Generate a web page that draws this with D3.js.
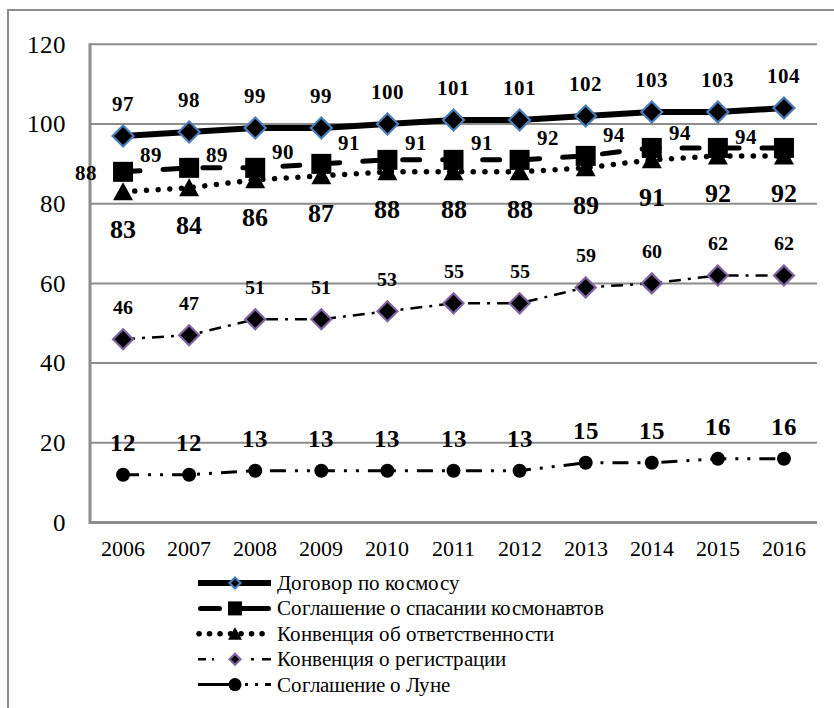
<!DOCTYPE html>
<html>
<head>
<meta charset="utf-8">
<script src="https://cdn.jsdelivr.net/npm/d3@7"></script>
<style>
  @font-face { font-family: "ChartSerif"; font-weight: 400; src: local("Liberation Serif"), local("LiberationSerif"), local("Tinos"), local("Times New Roman"); }
  @font-face { font-family: "ChartSerif"; font-weight: 700; src: local("Liberation Serif Bold"), local("LiberationSerif-Bold"), local("Tinos Bold"), local("Times New Roman Bold"); }
  html, body { margin: 0; padding: 0; background: #fff; }
  svg.chart { display: block; font-family: "ChartSerif", "Liberation Serif", Tinos, "DejaVu Serif"; }
</style>
</head>
<body>
<div id="wrap"></div>
<script>
// Years on the horizontal axis
const years = ["2006", "2007", "2008", "2009", "2010", "2011", "2012", "2013", "2014", "2015", "2016"];

// Number of states party to each UN space treaty
const seriesNames = [
  "Договор по космосу",
  "Соглашение о спасании космонавтов",
  "Конвенция об ответственности",
  "Конвенция о регистрации",
  "Соглашение о Луне"
];
const outerSpaceTreaty   = [97, 98, 99, 99, 100, 101, 101, 102, 103, 103, 104];
const rescueAgreement    = [88, 89, 89, 90, 91, 91, 91, 92, 94, 94, 94];
const liabilityConv      = [83, 84, 86, 87, 88, 88, 88, 89, 91, 92, 92];
const registrationConv   = [46, 47, 51, 51, 53, 55, 55, 59, 60, 62, 62];
const moonAgreement      = [12, 12, 13, 13, 13, 13, 13, 15, 15, 16, 16];

const yTicks = [0, 20, 40, 60, 80, 100, 120];

// ---- layout ----
const FONT = '"ChartSerif", "Liberation Serif", Tinos, "DejaVu Serif"';
const svg = d3.select("#wrap").append("svg")
  .attr("class", "chart")
  .attr("width", 834).attr("height", 708);
const plot = { left: 90, right: 817, top: 44.3, bottom: 522.5 };
const grey = "#8c8c8c";

const x = d3.scaleBand().domain(years).range([plot.left, plot.right]).paddingInner(0).paddingOuter(0);
const cx = d => x(d) + x.bandwidth() / 2;
const y = d3.scaleLinear().domain([0, 120]).range([plot.bottom, plot.top]);

// outer frame (top and left edges)
svg.append("path")
  .attr("d", "M8,708 L8,10 L834,10")
  .attr("fill", "none").attr("stroke", grey).attr("stroke-width", 2);

// gridlines
svg.append("g").selectAll("line")
  .data(yTicks)
  .join("line")
  .attr("x1", plot.left).attr("x2", plot.right)
  .attr("y1", d => y(d)).attr("y2", d => y(d))
  .attr("stroke", grey).attr("stroke-width", 2);

// y tick labels
svg.append("g").selectAll("text")
  .data(yTicks)
  .join("text")
  .attr("font-family", FONT)
  .attr("font-size", 25)
  .attr("x", plot.left - 24)
  .attr("y", d => y(d) + 25 * 0.33)
  .attr("text-anchor", "end")
  .attr("fill", "#000")
  .text(d => d);

// x tick labels
svg.append("g").selectAll("text")
  .data(years)
  .join("text")
  .attr("font-family", FONT)
  .attr("font-size", 21.5)
  .attr("x", d => cx(d))
  .attr("y", 556)
  .attr("text-anchor", "middle")
  .attr("fill", "#000")
  .text(d => d);

// axis lines (left and bottom)
svg.append("path")
  .attr("d", `M${plot.left},${plot.top - 1} L${plot.left},${plot.bottom} L${plot.right},${plot.bottom}`)
  .attr("fill", "none").attr("stroke", grey).attr("stroke-width", 3);

// ---- marker shapes ----
function drawMarker(g, kind, px, py, s, fill, stroke) {
  let el;
  if (kind === "diamond") {
    el = g.append("path").attr("d", `M${px},${py - s} L${px + s},${py} L${px},${py + s} L${px - s},${py} Z`);
  } else if (kind === "square") {
    el = g.append("rect").attr("x", px - s).attr("y", py - s).attr("width", 2 * s).attr("height", 2 * s);
  } else if (kind === "triangle") {
    el = g.append("path").attr("d", `M${px},${py - s * 0.95} L${px + s},${py + s * 0.85} L${px - s},${py + s * 0.85} Z`);
  } else {
    el = g.append("circle").attr("cx", px).attr("cy", py).attr("r", s);
  }
  el.attr("fill", fill);
  if (stroke) el.attr("stroke", stroke).attr("stroke-width", 2.2);
  else el.attr("stroke", "none");
}

// label offsets for the rescue agreement series
const rescueOffsets = [[-37, 1], [-38, -13], [-38, -13], [-38, -12], [-38, -17], [-38, -17], [-38, -17], [-38, -18], [-38, -13], [-38, -15], [-38, -11]];

const series = [
  { name: seriesNames[0], values: outerSpaceTreaty, width: 6, dash: null, cap: "butt",
    marker: "diamond", size: 10.5, mfill: "#000", mstroke: "#4a7ebb", lsize: 5.5,
    ldash: null, lx: 198, font: 20.5, off: () => [0, -32] },
  { name: seriesNames[1], values: rescueAgreement, width: 5, dash: "17,23", cap: "round",
    marker: "square", size: 10, mfill: "#000", mstroke: null, lsize: 7,
    ldash: "19,11,40", lx: 200.5, font: 21, off: i => rescueOffsets[i] },
  { name: seriesNames[2], values: liabilityConv, width: 5.5, dash: "0.1,11.6", cap: "round",
    marker: "triangle", size: 10, mfill: "#000", mstroke: null, lsize: 7,
    ldash: "0.1,10.4", lx: 199, font: 26, off: () => [0, 38] },
  { name: seriesNames[3], values: registrationConv, width: 2.5, dash: "12,7,3,7", cap: "butt",
    marker: "diamond", size: 10, mfill: "#000", mstroke: "#8064a2", lsize: 5.5,
    ldash: "8,6,2,37,3,8,9", lx: 198, font: 20, off: () => [0, -32] },
  { name: seriesNames[4], values: moonAgreement, width: 3, dash: "16,9,3,9,3,9", cap: "butt",
    marker: "circle", size: 7, mfill: "#000", mstroke: null, lsize: 6.5,
    ldash: "36,11,3,7,3,7,6", lx: 198, font: 25, off: () => [0, -32] }
];

const line = d3.line().x((d, i) => cx(years[i])).y(d => y(d));

// lines and markers
series.forEach(s => {
  const g = svg.append("g");
  g.append("path")
    .datum(s.values)
    .attr("d", line)
    .attr("fill", "none")
    .attr("stroke", "#000")
    .attr("stroke-width", s.width)
    .attr("stroke-linecap", s.cap)
    .attr("stroke-linejoin", "round")
    .attr("stroke-dasharray", s.dash);
  s.values.forEach((v, i) => drawMarker(g, s.marker, cx(years[i]), y(v), s.size, s.mfill, s.mstroke));
});

// data labels
series.forEach(s => {
  svg.append("g").selectAll("text")
    .data(s.values)
    .join("text")
    .attr("font-family", FONT)
    .attr("font-size", s.font)
    .attr("font-weight", "bold")
    .attr("x", (d, i) => cx(years[i]) + s.off(i)[0])
    .attr("y", (d, i) => y(d) + s.off(i)[1] + s.font * 0.33)
    .attr("text-anchor", "middle")
    .attr("fill", "#000")
    .text(d => d);
});

// legend
const legend = svg.append("g");
const lx1 = 271, lmid = 235;
series.forEach((s, k) => {
  const ly = 583 + k * 25.4;
  legend.append("line")
    .attr("x1", s.lx).attr("x2", s.cap === "round" ? lx1 - 2.5 : lx1).attr("y1", ly).attr("y2", ly)
    .attr("stroke", "#000")
    .attr("stroke-width", s.width)
    .attr("stroke-linecap", s.cap)
    .attr("stroke-dasharray", s.ldash);
  drawMarker(legend, s.marker, lmid, ly, s.lsize, s.mfill, s.mstroke);
  legend.append("text")
    .attr("font-family", FONT)
    .attr("font-size", 21)
    .attr("x", 277).attr("y", ly + 7)
    .attr("fill", "#000")
    .text(s.name);
});
</script>
</body>
</html>
